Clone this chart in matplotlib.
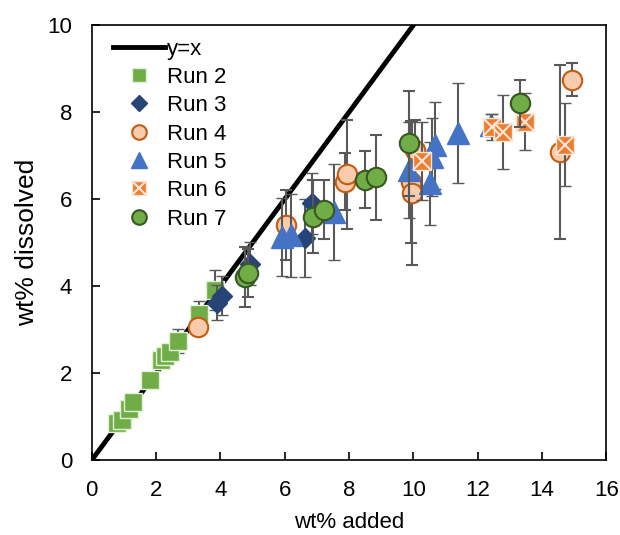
import matplotlib.pyplot as plt
from matplotlib.legend_handler import HandlerTuple

plt.rcParams['font.family'] = ['Liberation Sans', 'DejaVu Sans']

# Run 2
x2 = [0.80, 0.95, 1.15, 1.27, 1.81, 2.15, 2.28, 2.43, 2.69, 3.33, 3.84]
y2 = [0.85, 0.92, 1.17, 1.34, 1.84, 2.30, 2.39, 2.49, 2.74, 3.37, 3.91]
e2 = [0.05, 0.05, 0.05, 0.05, 0.05, 0.10, 0.10, 0.10, 0.27, 0.29, 0.45]
# Run 3
x3 = [3.90, 4.05, 4.92, 6.62, 6.85]
y3 = [3.62, 3.78, 4.52, 5.10, 5.90]
e3 = [0.40, 0.45, 0.50, 0.90, 0.70]
# Run 4
x4 = [3.30, 6.05, 7.87, 7.93, 9.93, 9.96, 10.06, 14.56, 14.92]
y4 = [3.05, 5.40, 6.40, 6.57, 6.40, 6.13, 7.13, 7.09, 8.75]
e4 = [0.10, 0.80, 0.65, 1.25, 1.40, 1.65, 0.70, 2.00, 0.37]
# Run 5
x5 = [5.90, 6.20, 7.54, 9.85, 10.52, 10.57, 10.68, 11.40, 12.42]
y5 = [5.13, 5.17, 5.71, 6.67, 6.36, 6.97, 7.24, 7.51, 7.70]
e5 = [0.90, 0.95, 1.10, 1.10, 0.95, 0.90, 1.00, 1.15, 0.25]
# Run 6
x6 = [10.27, 12.45, 12.80, 13.47, 14.70]
y6 = [6.87, 7.65, 7.55, 7.78, 7.25]
e6 = [0.90, 0.30, 0.85, 0.65, 0.95]
# Run 7
x7 = [4.75, 4.87, 6.87, 7.23, 8.49, 8.83, 9.85, 13.30]
y7 = [4.21, 4.31, 5.60, 5.76, 6.45, 6.50, 7.28, 8.20]
e7 = [0.70, 0.55, 0.85, 0.67, 0.66, 0.98, 1.20, 0.55]

fig, ax = plt.subplots(figsize=(6.2, 5.35), dpi=100)
fig.subplots_adjust(left=0.148, right=0.978, bottom=0.140, top=0.953)

eb = dict(linestyle='none', ecolor='#595959', elinewidth=1.5, capsize=4, capthick=1.5)

line, = ax.plot([0, 16], [0, 16], color='black', lw=3.5, zorder=1)

h2 = ax.errorbar(x2, y2, yerr=e2, fmt='s', ms=12.5, mfc='#70AD47', mec='#E2F0D9', mew=1, zorder=2, **eb)
h3 = ax.errorbar(x3, y3, yerr=e3, fmt='D', ms=10.5, mfc='#264478', mec='#264478', mew=1, zorder=3, **eb)
h4 = ax.errorbar(x4, y4, yerr=e4, fmt='o', ms=14, mfc='#F8CBAD', mec='#C55A11', mew=1.5, zorder=4, **eb)
h5 = ax.errorbar(x5, y5, yerr=e5, fmt='^', ms=16, mfc='#4472C4', mec='#4472C4', mew=1, zorder=5, **eb)
h6 = ax.errorbar(x6, y6, yerr=e6, fmt='s', ms=13.5, mfc='#ED7D31', mec='#FBE5D6', mew=1, zorder=6, **eb)
h6x, = ax.plot(x6, y6, 'x', ms=13.5, mec='#FBE5D6', mew=1.5, linestyle='none', zorder=6.5)
h7 = ax.errorbar(x7, y7, yerr=e7, fmt='o', ms=14, mfc='#70AD47', mec='#385723', mew=1.5, zorder=7, **eb)

ax.set_xlim(0, 16)
ax.set_ylim(0, 10)
ax.set_xticks(range(0, 17, 2))
ax.set_yticks(range(0, 11, 2))
ax.tick_params(direction='in', length=6, width=1.2, labelsize=16, pad=14)
for s in ax.spines.values():
    s.set_linewidth(1.2)

ax.set_xlabel('wt% added', fontsize=16, labelpad=8)
ax.set_ylabel('wt% dissolved', fontsize=19, labelpad=6)

handles = [line, h2[0], h3[0], h4[0], h5[0], (h6[0], h6x), h7[0]]
labels = ['y=x', 'Run 2', 'Run 3', 'Run 4', 'Run 5', 'Run 6', 'Run 7']
ax.legend(handles, labels, loc='upper left', frameon=False, fontsize=16,
          markerscale=0.75, labelspacing=0.33, handlelength=2.3, handletextpad=0.1,
          borderaxespad=0.3, bbox_to_anchor=(0.012, 1.005),
          handler_map={tuple: HandlerTuple(ndivide=1, pad=0)})

fig.savefig('out.png', dpi=100)
